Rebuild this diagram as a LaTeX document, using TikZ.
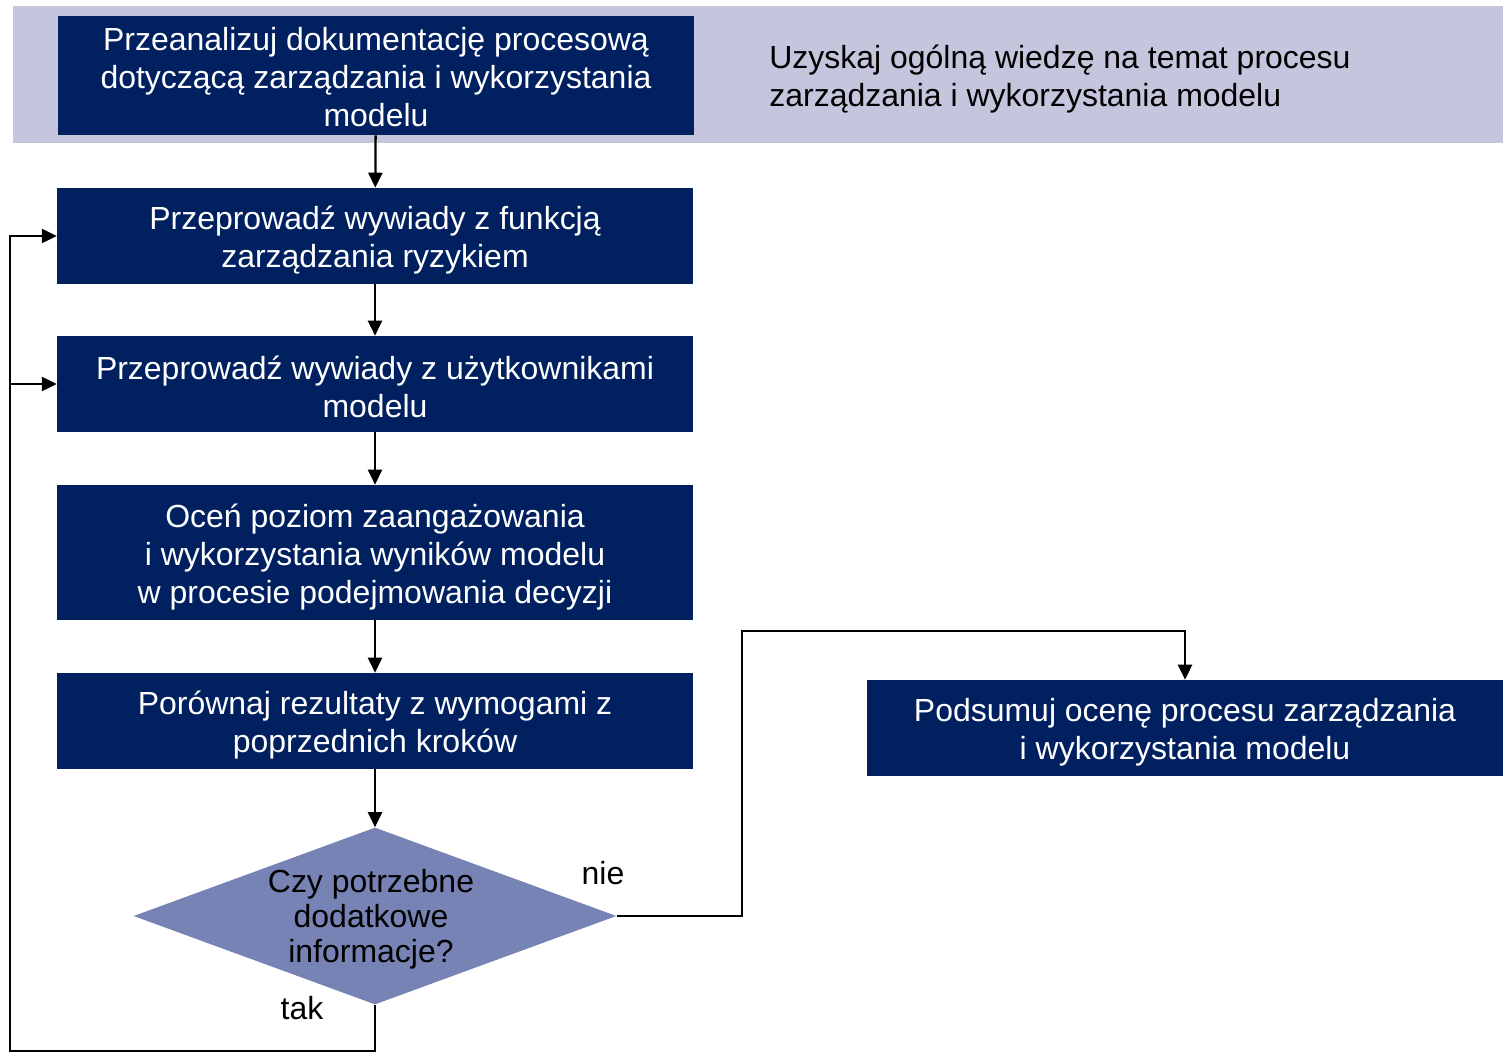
\documentclass[tikz,border=0pt]{standalone}
\usepackage{fontspec}
\setmainfont{Liberation Sans}
\usetikzlibrary{arrows.meta,shapes.geometric}
\definecolor{navy}{RGB}{0,32,96}
\definecolor{band}{RGB}{197,197,222}
\definecolor{decide}{RGB}{120,131,181}
\tikzset{
  stepbox/.style={rectangle, fill=navy, minimum width=12.72cm, inner sep=0pt},
  steptext/.style={text=white, align=center, inner sep=0pt,
    font=\fontsize{18.2pt}{21.6pt}\selectfont},
  decbox/.style={diamond, fill=decide,
    minimum width=9.66cm, minimum height=3.54cm, aspect=2.73, inner sep=0pt},
  dectext/.style={text=black, align=center, inner sep=0pt,
    font=\fontsize{18.2pt}{19.9pt}\selectfont},
  plain/.style={text=black, inner sep=0pt, font=\fontsize{18.2pt}{21.6pt}\selectfont},
  flow/.style={line width=1.3pt, -{Triangle[length=8.5pt,width=8pt]}},
}
\begin{document}
\begin{tikzpicture}[x=0.02cm,y=-0.02cm]
\useasboundingbox (0,0) rectangle (1503,1053);
% top band
\fill[band] (13,6) rectangle (1503,143);

% process boxes (box first, then its caption slightly below the centre)
\node[stepbox, minimum height=2.38cm] (b1) at (376,75.5) {};
\node[steptext] (t1) at (376,77.5)
  {Przeanalizuj dokumentację procesową\\dotyczącą zarządzania i wykorzystania\\modelu};
\node[plain, anchor=west, align=left] (info) at (769,79)
  {Uzyskaj ogólną wiedzę na temat procesu\\zarządzania i wykorzystania modelu};

\node[stepbox, minimum height=1.92cm] (b2) at (375,236) {};
\node[steptext] (t2) at (375,240)
  {Przeprowadź wywiady z funkcją\\zarządzania ryzykiem};

\node[stepbox, minimum height=1.92cm] (b3) at (375,384) {};
\node[steptext] (t3) at (375,386.5)
  {Przeprowadź wywiady z użytkownikami\\modelu};

\node[stepbox, minimum height=2.7cm] (b4) at (375,552.5) {};
\node[steptext] (t4) at (375,557)
  {Oceń poziom zaangażowania\\i wykorzystania wyników modelu\\w procesie podejmowania decyzji};

\node[stepbox, minimum height=1.92cm] (b5) at (375,721) {};
\node[steptext] (t5) at (375,725)
  {Porównaj rezultaty z wymogami z\\poprzednich kroków};

\node[decbox] (q) at (375,916) {};
\node[dectext] (qt) at (371,919) {Czy potrzebne\\dodatkowe\\informacje?};

\node[stepbox, minimum height=1.92cm] (b6) at (1185,728) {};
\node[steptext] (t6) at (1185,732)
  {Podsumuj ocenę procesu zarządzania\\i wykorzystania modelu};

\node[plain] (nie) at (603,873) {nie};
\node[plain] (tak) at (302,1008) {tak};

% main flow
\draw[flow] (b1) -- (b2);
\draw[flow] (b2) -- (b3);
\draw[flow] (b3) -- (b4);
\draw[flow] (b4) -- (b5);
\draw[flow] (b5) -- (q);

% "tak" loop back to the interviews
\coordinate (loop) at (10,1051);
\draw[flow] (q.south) |- (loop) |- (b2.west);
\draw[flow] (loop |- b3.west) -- (b3.west);

% "nie" branch to the summary
\coordinate (up) at (742,631);
\draw[flow] (q.east) -| (up) -| (b6.north);
\end{tikzpicture}
\end{document}
